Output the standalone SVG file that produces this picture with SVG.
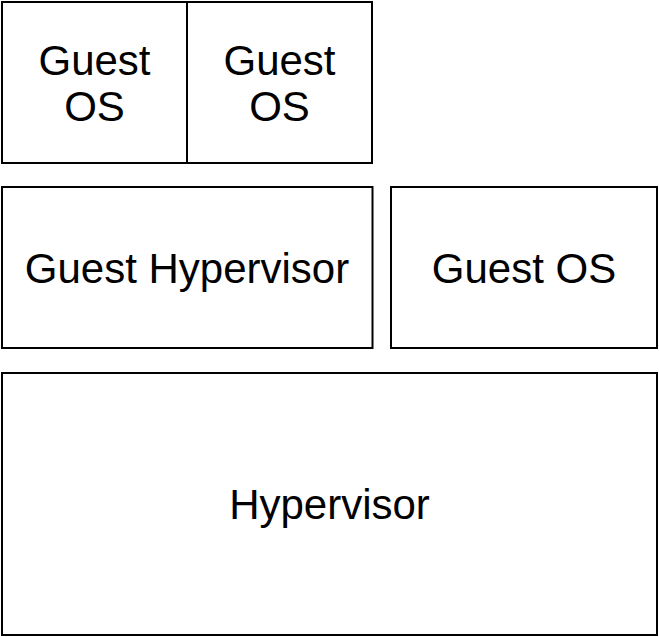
<svg xmlns="http://www.w3.org/2000/svg" width="659" height="637" viewBox="0 0 659 637">
<style>
.box{fill:#fff;stroke:#000;stroke-width:2}
.lbl{font-family:"Liberation Sans",Arial,sans-serif;font-size:42px;fill:#000;text-anchor:middle}
</style>
<rect width="659" height="637" fill="#fff"/>
<g id="guest-os-1"><rect class="box" x="2" y="2" width="185" height="161"/><text class="lbl" x="94.5" y="75">Guest</text><text class="lbl" x="94.5" y="121">OS</text></g>
<g id="guest-os-2"><rect class="box" x="187" y="2" width="185" height="161"/><text class="lbl" x="279.5" y="75">Guest</text><text class="lbl" x="279.5" y="121">OS</text></g>
<g id="guest-hypervisor"><rect class="box" x="2" y="187" width="370.5" height="161"/><text class="lbl" x="187" y="283">Guest Hypervisor</text></g>
<g id="guest-os-3"><rect class="box" x="391" y="187" width="266" height="161"/><text class="lbl" x="524" y="283">Guest OS</text></g>
<g id="hypervisor"><rect class="box" x="2" y="373" width="655" height="262"/><text class="lbl" x="329.5" y="519">Hypervisor</text></g>
<g id="connectors"/>
</svg>
